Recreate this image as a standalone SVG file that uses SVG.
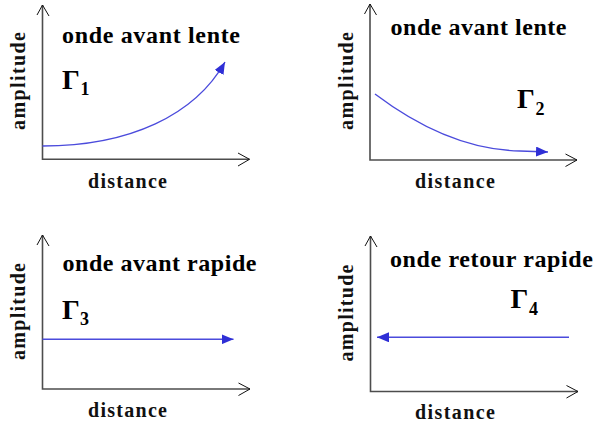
<svg xmlns="http://www.w3.org/2000/svg" width="598" height="429" viewBox="0 0 598 429">
  <style>
    .axis { stroke: #4d4d4d; stroke-width: 1.6; fill: none; }
    .chev { stroke: #111; stroke-width: 1; fill: none; }
    .title { font-family: "Liberation Serif", "Times New Roman", serif; font-weight: bold; font-size: 24px; fill: #000; }
    .lbl { font-family: "Liberation Serif", "Times New Roman", serif; font-weight: bold; font-size: 20px; fill: #111; }
    .gam { font-family: "Liberation Serif", "Times New Roman", serif; font-weight: bold; font-size: 28px; fill: #000; }
    .sub { font-family: "Liberation Serif", "Times New Roman", serif; font-weight: bold; font-size: 18px; fill: #000; }
    .wave { stroke: #4b4bdc; stroke-width: 1.4; fill: none; marker-end: url(#ah); }
  </style>
  <defs>
    <marker id="ah" viewBox="0 0 12 10" refX="12" refY="5" markerWidth="12" markerHeight="10" markerUnits="userSpaceOnUse" orient="auto">
      <path d="M0,0 L12,5 L0,10 z" fill="#2f2fd6"/>
    </marker>
  </defs>
  <rect width="598" height="429" fill="#fff"/>

  <g id="panel1">
    <path class="axis" d="M42.5,5 V159.3 H249.5"/>
    <path class="chev" d="M37,15 L42.5,5 L49,16 M238,153 L249.5,159.3 L238,166"/>
    <text class="title" x="62" y="43" textLength="178" lengthAdjust="spacing">onde avant lente</text>
    <text class="gam" x="62" y="88.5">Γ</text>
    <text class="sub" x="80.5" y="95">1</text>
    <text class="lbl" x="88" y="188.3" textLength="79" lengthAdjust="spacing">distance</text>
    <text class="lbl" transform="translate(25,130) rotate(-90)" x="0" y="0" textLength="98" lengthAdjust="spacing">amplitude</text>
  </g>

  <g id="panel2">
    <path class="axis" d="M370,4 V160 H577"/>
    <path class="chev" d="M364.5,14 L370,4 L376.5,15 M565.5,154 L577,160 L565.5,166.5"/>
    <text class="title" x="390.5" y="35" textLength="176" lengthAdjust="spacing">onde avant lente</text>
    <text class="gam" x="517" y="108.3">Γ</text>
    <text class="sub" x="535.5" y="115">2</text>
    <text class="lbl" x="415" y="188.3" textLength="80" lengthAdjust="spacing">distance</text>
    <text class="lbl" transform="translate(353,130) rotate(-90)" x="0" y="0" textLength="98" lengthAdjust="spacing">amplitude</text>
  </g>

  <g id="panel3">
    <path class="axis" d="M42.5,235 V389 H250"/>
    <path class="chev" d="M37,245 L42.5,235 L49,246 M238.5,383 L250,389 L238.5,395.5"/>
    <text class="title" x="62.5" y="271" textLength="194" lengthAdjust="spacing">onde avant rapide</text>
    <text class="gam" x="62" y="319.3">Γ</text>
    <text class="sub" x="80" y="325">3</text>
    <text class="lbl" x="88" y="416.7" textLength="79" lengthAdjust="spacing">distance</text>
    <text class="lbl" transform="translate(25,360) rotate(-90)" x="0" y="0" textLength="97" lengthAdjust="spacing">amplitude</text>
  </g>

  <g id="panel4">
    <path class="axis" d="M370.5,236 V391.5 H578"/>
    <path class="chev" d="M365,246 L370.5,236 L377,247 M566.5,385.5 L578,391.5 L566.5,398"/>
    <text class="title" x="390" y="266.7" textLength="203" lengthAdjust="spacing">onde retour rapide</text>
    <text class="gam" x="510.5" y="308.3">Γ</text>
    <text class="sub" x="529" y="315">4</text>
    <text class="lbl" x="415" y="419" textLength="80" lengthAdjust="spacing">distance</text>
    <text class="lbl" transform="translate(353,361.5) rotate(-90)" x="0" y="0" textLength="97" lengthAdjust="spacing">amplitude</text>
  </g>

  <g id="connectors">
    <path class="wave" d="M42.5,146 C130,146 195,115 225,62"/>
    <path class="wave" d="M375,94 C420,128 470,150 520,151 L548,152"/>
    <path class="wave" d="M42.5,339.3 H233.5"/>
    <path class="wave" d="M569,337.3 H377"/>
  </g>
</svg>
